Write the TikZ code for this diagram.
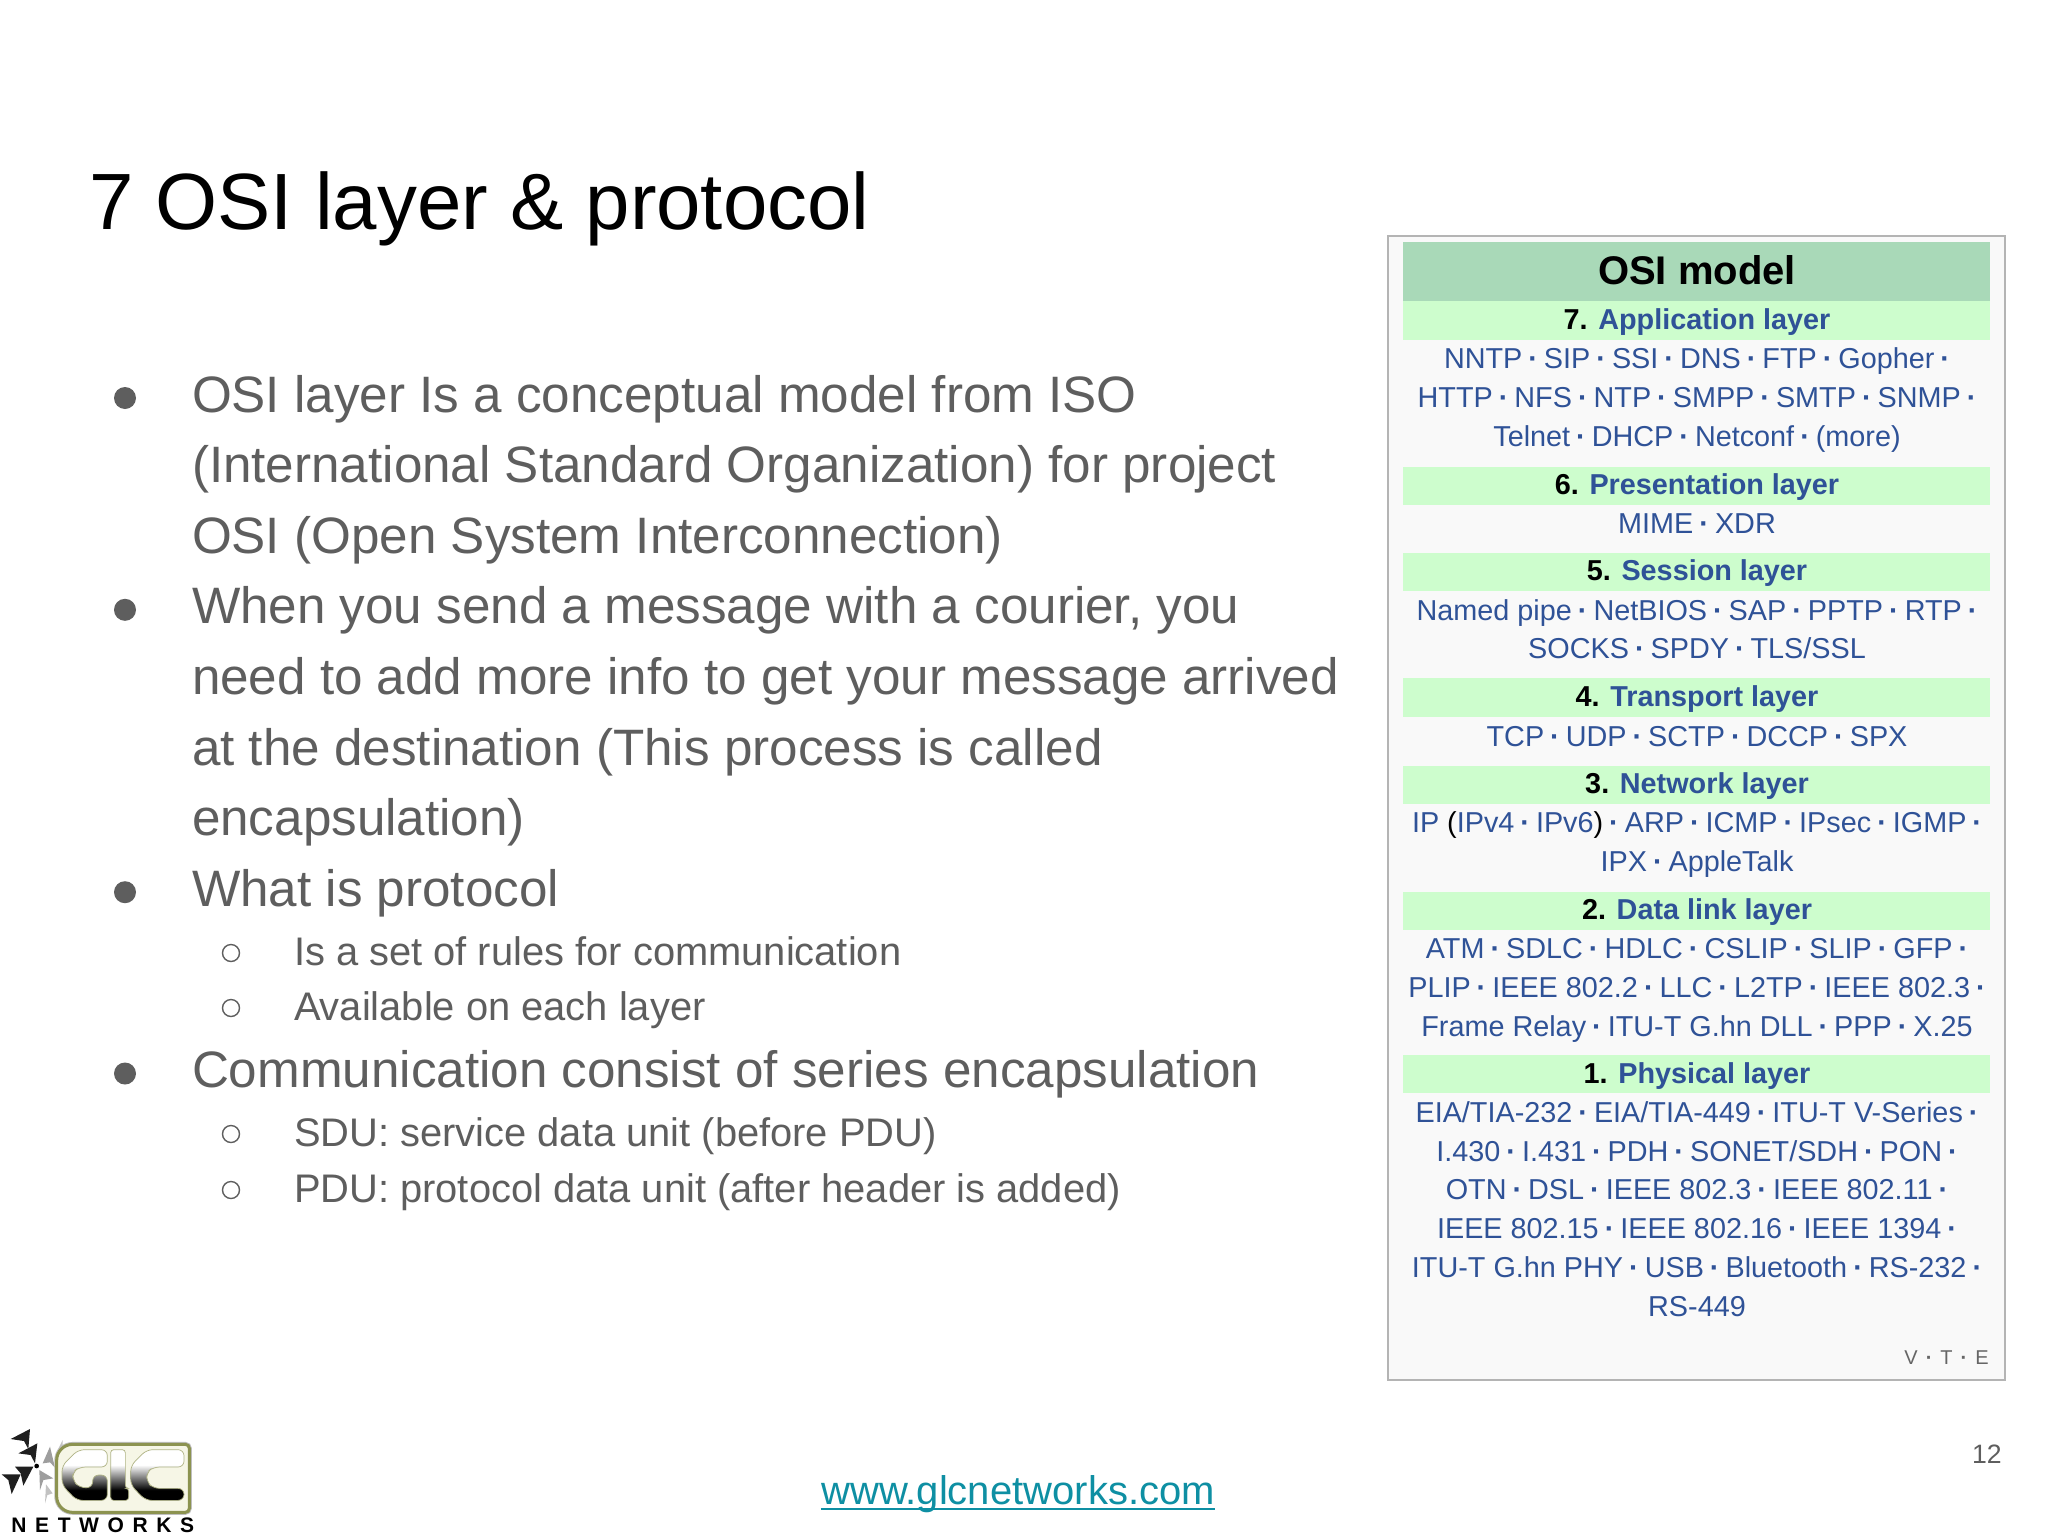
\documentclass[tikz,border=0pt]{standalone}
\usepackage{fontspec}
\setmainfont{Liberation Sans}
\newfontfamily\netfont[LetterSpace=41]{Liberation Sans}
\usetikzlibrary{calc}
\definecolor{bodygray}{HTML}{5E5E5E}
\definecolor{linkblue}{HTML}{2F5297}
\definecolor{headgreen}{HTML}{A9D9B8}
\definecolor{bandgreen}{HTML}{CDFDCD}
\definecolor{panelbg}{HTML}{F9F9F9}
\definecolor{panelline}{HTML}{B4B4B4}
\definecolor{footteal}{HTML}{0E8FA3}
\definecolor{olive}{HTML}{8C9350}
\definecolor{cream}{HTML}{F6F6E6}
\pgfdeclareverticalshading{glcgrad}{100bp}{color(0bp)=(black); color(35bp)=(black); color(45bp)=(black!60); color(55bp)=(black!20); color(60bp)=(white); color(100bp)=(white)}
\tikzset{
  txt/.style={inner sep=0pt,outer sep=0pt,anchor=base west},
  titletxt/.style={txt,font=\fontsize{39.9}{39.9}\selectfont,text=black},
  lvlone/.style={txt,font=\fontsize{25.6}{25.6}\selectfont,text=bodygray},
  lvltwo/.style={txt,font=\fontsize{19.94}{19.94}\selectfont,text=bodygray},
  dotone/.style={circle,fill=bodygray,inner sep=0pt,minimum size=11pt},
  dottwo/.style={circle,draw=bodygray,line width=0.7pt,inner sep=0pt,minimum size=8.5pt},
  band/.style={fill=bandgreen,draw=none},
  bandtxt/.style={inner sep=0pt,anchor=base,font=\fontsize{14.4}{14.4}\selectfont\bfseries,text=linkblue},
  linktxt/.style={inner sep=0pt,anchor=base,font=\fontsize{14.4}{14.4}\selectfont,text=linkblue},
  darkarrow/.style={fill=black!88,draw=none},
  greyarrow/.style={fill=black!38,draw=none},
  paleshard/.style={fill=black!24,draw=none},
  glcletter/.style={shading=glcgrad,draw=olive!70,line width=0.35pt},
}
\newcommand{\sep}{\hspace{3pt}\textbf{·}\hspace{3pt}}
\begin{document}
\begin{tikzpicture}[x=0.5pt,y=-0.5pt]
\useasboundingbox (0,0) rectangle (2048,1536);
\fill[white] (0,0) rectangle (2048,1536);

\node[titletxt] (title) at (89,229) {7 OSI layer \& protocol};

% body
\node[dotone] (b1) at (125,398) {};
\node[lvlone] (t1a) at (192,412) {OSI layer Is a conceptual model from ISO};
\node[lvlone] (t1b) at (192,482.6) {(International Standard Organization) for project};
\node[lvlone] (t1c) at (192,553.2) {OSI (Open System Interconnection)};
\node[dotone] (b2) at (125,609.8) {};
\node[lvlone] (t2a) at (192,623.8) {When you send a message with a courier, you};
\node[lvlone] (t2b) at (192,694.4) {need to add more info to get your message arrived};
\node[lvlone] (t2c) at (192,765) {at the destination (This process is called};
\node[lvlone] (t2d) at (192,835.6) {encapsulation)};
\node[dotone] (b3) at (125,892.2) {};
\node[lvlone] (t3) at (192,906.2) {What is protocol};
\node[dottwo] (s1) at (231,953) {};
\node[lvltwo] (t3a) at (294,965) {Is a set of rules for communication};
\node[dottwo] (s2) at (231,1008) {};
\node[lvltwo] (t3b) at (294,1020) {Available on each layer};
\node[dotone] (b4) at (125,1073.5) {};
\node[lvlone] (t4) at (192,1087.5) {Communication consist of series encapsulation};
\node[dottwo] (s3) at (231,1134) {};
\node[lvltwo] (t4a) at (294,1146) {SDU: service data unit (before PDU)};
\node[dottwo] (s4) at (231,1190) {};
\node[lvltwo] (t4b) at (294,1202) {PDU: protocol data unit (after header is added)};

% panel
\draw[panelline,fill=panelbg,line width=1.2pt] (1388,236) rectangle (2005,1380);
\fill[headgreen] (1403,242) rectangle (1990,301);
\fill[band] (1403,301) rectangle (1990,340);
\fill[band] (1403,467) rectangle (1990,505);
\fill[band] (1403,553) rectangle (1990,591);
\fill[band] (1403,678) rectangle (1990,717);
\fill[band] (1403,766) rectangle (1990,804);
\fill[band] (1403,892) rectangle (1990,930);
\fill[band] (1403,1055) rectangle (1990,1093);

\node[inner sep=0pt,anchor=base,font=\fontsize{20}{20}\selectfont\bfseries,text=black] (head) at (1697,284) {OSI model};
\node[bandtxt] (l7) at (1697,329) {\textcolor{black}{7.} Application layer};
\node[linktxt] (l7a) at (1697,368) {NNTP\sep SIP\sep SSI\sep DNS\sep FTP\sep Gopher\sep};
\node[linktxt] (l7b) at (1697,407) {HTTP\sep NFS\sep NTP\sep SMPP\sep SMTP\sep SNMP\sep};
\node[linktxt] (l7c) at (1697,446) {Telnet\sep DHCP\sep Netconf\sep (more)};
\node[bandtxt] (l6) at (1697,494) {\textcolor{black}{6.} Presentation layer};
\node[linktxt] (l6a) at (1697,533) {MIME\sep XDR};
\node[bandtxt] (l5) at (1697,580) {\textcolor{black}{5.} Session layer};
\node[linktxt] (l5a) at (1697,620) {Named pipe\sep NetBIOS\sep SAP\sep PPTP\sep RTP\sep};
\node[linktxt] (l5b) at (1697,658) {SOCKS\sep SPDY\sep TLS/SSL};
\node[bandtxt] (l4) at (1697,706) {\textcolor{black}{4.} Transport layer};
\node[linktxt] (l4a) at (1697,746) {TCP\sep UDP\sep SCTP\sep DCCP\sep SPX};
\node[bandtxt] (l3) at (1697,793) {\textcolor{black}{3.} Network layer};
\node[linktxt] (l3a) at (1697,832) {IP \textcolor{black}{(}IPv4\sep IPv6\textcolor{black}{)}\sep ARP\sep ICMP\sep IPsec\sep IGMP\sep};
\node[linktxt] (l3b) at (1697,871) {IPX\sep AppleTalk};
\node[bandtxt] (l2) at (1697,919) {\textcolor{black}{2.} Data link layer};
\node[linktxt] (l2a) at (1697,958) {ATM\sep SDLC\sep HDLC\sep CSLIP\sep SLIP\sep GFP\sep};
\node[linktxt] (l2b) at (1697,997) {PLIP\sep IEEE 802.2\sep LLC\sep L2TP\sep IEEE 802.3\sep};
\node[linktxt] (l2c) at (1697,1036) {Frame Relay\sep ITU-T G.hn DLL\sep PPP\sep X.25};
\node[bandtxt] (l1) at (1697,1083) {\textcolor{black}{1.} Physical layer};
\node[linktxt] (l1a) at (1697,1122) {EIA/TIA-232\sep EIA/TIA-449\sep ITU-T V-Series\sep};
\node[linktxt] (l1b) at (1697,1161) {I.430\sep I.431\sep PDH\sep SONET/SDH\sep PON\sep};
\node[linktxt] (l1c) at (1697,1199) {OTN\sep DSL\sep IEEE 802.3\sep IEEE 802.11\sep};
\node[linktxt] (l1d) at (1697,1238) {IEEE 802.15\sep IEEE 802.16\sep IEEE 1394\sep};
\node[linktxt] (l1e) at (1697,1277) {ITU-T G.hn PHY\sep USB\sep Bluetooth\sep RS-232\sep};
\node[linktxt] (l1f) at (1697,1316) {RS-449};
\node[inner sep=0pt,anchor=base east,font=\fontsize{10}{10}\selectfont,text=black!60] (vte) at (1989,1364) {V\hspace{4pt}\textbf{·}\hspace{4pt}T\hspace{4pt}\textbf{·}\hspace{4pt}E};

% footer
\node[inner sep=0pt,anchor=base,font=\fontsize{20}{20}\selectfont,text=footteal] (url) at (1018,1504) {www.glcnetworks.com};
\draw[footteal,line width=0.9pt] ($(url.base west)+(0,5)$) -- ($(url.base east)+(0,5)$);
\node[inner sep=0pt,anchor=base east,font=\fontsize{13.3}{13.3}\selectfont,text=bodygray] (pg) at (2002,1463) {12};

% logo: star fragments
\begin{scope}[shift={(0,1425)},x=0.1667pt,y=-0.1667pt]
\fill[darkarrow] (90,12)--(32,42)--(72,48)--(85,72)--cycle;
\fill[darkarrow] (112,55)--(55,85)--(92,90)--(105,115)--cycle;
\fill[darkarrow] (100,125)--(45,125)--(62,145)--(70,182)--cycle;
\fill[darkarrow] (62,148)--(5,148)--(25,165)--(35,207)--cycle;
\fill[black] (110,123) circle (7);
\fill[greyarrow] (150,65)--(128,115)--(150,112)--(165,128)--cycle;
\fill[paleshard] (188,45)--(168,85)--(188,85)--cycle;
\fill[greyarrow] (118,135)--(160,160)--(130,165)--(120,195)--cycle;
\fill[paleshard] (138,178)--(158,205)--(142,210)--(135,235)--cycle;
\end{scope}
% logo: lettering
\begin{scope}[shift={(50,1435)},x=0.1667pt,y=-0.1667pt]
\draw[black!25,line width=2.4pt,rounded corners=8pt] (20,130) -- (20,28) -- (200,28) [rounded corners=2pt] -- (418,28) -- (418,232) -- (200,232) [rounded corners=8pt] -- (20,232) -- cycle;
\draw[olive,fill=cream,line width=1.5pt,rounded corners=8pt] (20,130) -- (20,28) -- (200,28) [rounded corners=2pt] -- (418,28) -- (418,232) -- (200,232) [rounded corners=8pt] -- (20,232) -- cycle;
\shade[glcletter,rounded corners=3pt]
  (172,44) -- (85,44) -- (36,92) -- (36,150) -- (80,196) -- (172,196) -- (172,120) -- (128,120) -- (128,158) -- (88,158) -- (68,135) -- (68,112) -- (88,96) -- (172,96) -- cycle;
\shade[glcletter,rounded corners=1.5pt]
  (182,44) -- (226,44) -- (226,160) -- (236,160) -- (236,196) -- (182,196) -- cycle;
\shade[glcletter,rounded corners=3pt]
  (402,44) -- (290,44) -- (242,92) -- (242,150) -- (287,196) -- (402,196) -- (402,160) -- (310,160) -- (290,140) -- (290,112) -- (310,96) -- (402,96) -- cycle;
\end{scope}
\node[inner sep=0pt,anchor=base west,font=\netfont\bfseries\fontsize{10.5}{10.5}\selectfont,text=black] (net) at (11,1532) {NETWORKS};
\end{tikzpicture}
\end{document}
